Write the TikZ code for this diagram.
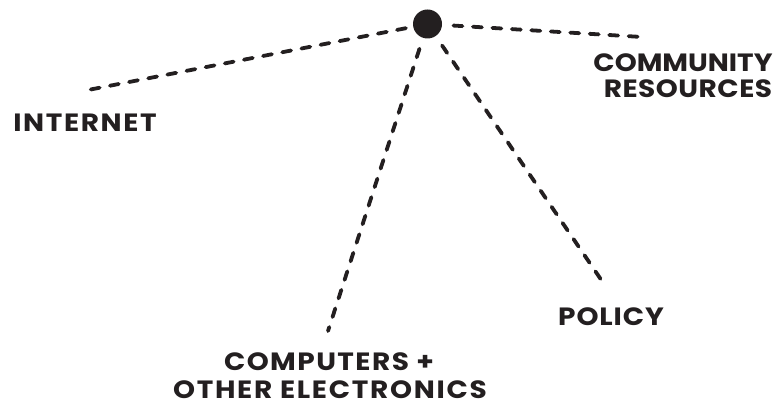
\documentclass[tikz,border=0pt]{standalone}
\usepackage{fontspec}
\setmainfont{Poppins}[UprightFont=* Bold, BoldFont=* Bold, FakeStretch=1.12]
\definecolor{ink}{HTML}{231F20}
\newcommand{\lblfont}[1]{\fontsize{25}{29}\selectfont\addfontfeature{LetterSpace=#1}}
\begin{document}
\begin{tikzpicture}[x=1pt,y=-1pt,
  link/.style={draw=ink, line width=3.8pt, line cap=round, dash pattern=on 9pt off 10.5pt},
  lbl/.style={text=ink, inner sep=0pt, anchor=base}]
\useasboundingbox (0,0) rectangle (776,406);
\node[circle, fill=ink, minimum size=29pt, inner sep=0pt] (hub) at (427.5,24) {};
\coordinate (inetEnd) at (88,90);
\coordinate (commEnd) at (642,37);
\coordinate (polEnd) at (604,284);
\coordinate (compEnd) at (328,331);
\draw[link, shorten <=22pt] (hub.center) -- (inetEnd);
\draw[link, shorten <=26pt] (hub.center) -- (commEnd);
\draw[link, shorten <=26pt] (hub.center) -- (polEnd);
\draw[link, shorten <=26pt] (hub.center) -- (compEnd);
\node[lbl, font=\lblfont{6.4}] (inet) at (85,132) {INTERNET};
\node[lbl, font=\lblfont{0}] (comm1) at (683,72) {COMMUNITY};
\node[lbl, font=\lblfont{2}] (comm2) at (688,98) {RESOURCES};
\node[lbl, font=\lblfont{3.6}] (pol) at (611,325) {POLICY};
\node[lbl, font=\lblfont{5.8}] (comp1) at (329,370) {COMPUTERS +};
\node[lbl, font=\lblfont{6.9}] (comp2) at (330,398) {OTHER ELECTRONICS};
\end{tikzpicture}
\end{document}
